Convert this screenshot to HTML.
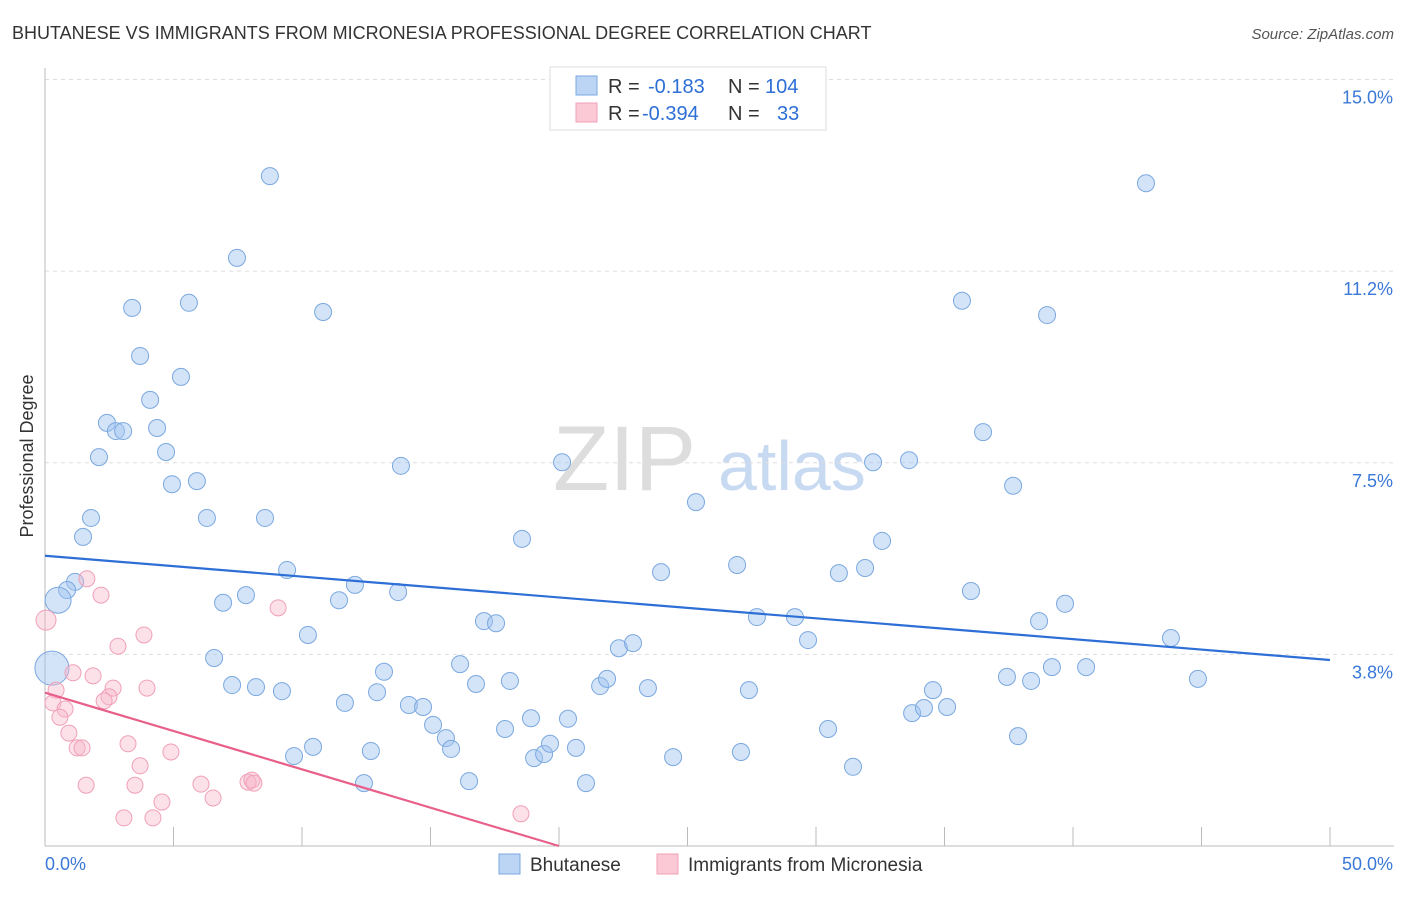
<!DOCTYPE html>
<html><head><meta charset="utf-8"><style>
body{margin:0;background:#fff;font-family:"Liberation Sans",sans-serif;}
svg text{font-family:"Liberation Sans",sans-serif;}
</style></head><body>
<svg id="chart" width="1406" height="892" xmlns="http://www.w3.org/2000/svg">
<text x="12" y="39" font-size="18" fill="#333">BHUTANESE VS IMMIGRANTS FROM MICRONESIA PROFESSIONAL DEGREE CORRELATION CHART</text>
<text x="1394" y="39" font-size="15" fill="#555" text-anchor="end" font-style="italic">Source: ZipAtlas.com</text>
<text transform="translate(33,456) rotate(-90)" font-size="18" fill="#333" text-anchor="middle">Professional Degree</text>
<g><text x="553" y="490" font-size="92" fill="#ddd" font-family="Liberation Serif">ZIP</text><text x="718" y="490" font-size="70" fill="#c8daf2">atlas</text></g>
<g id="grid"></g><g id="marks"></g>
<g>
<rect x="550" y="67" width="276" height="63" fill="#fff" stroke="#ddd"/>
<rect x="576" y="76" width="21" height="19" fill="#bcd5f5" stroke="#7aa8e0"/>
<rect x="576" y="103" width="21" height="19" fill="#fbc8d6" stroke="#f0a0b8"/>
<text x="608" y="93" font-size="20" fill="#333">R = </text><text x="648" y="93" font-size="20" fill="#2d6fd6">-0.183</text>
<text x="728" y="93" font-size="20" fill="#333">N = </text><text x="765" y="93" font-size="20" fill="#2d6fd6">104</text>
<text x="608" y="120" font-size="20" fill="#333">R = </text><text x="642" y="120" font-size="20" fill="#2d6fd6">-0.394</text>
<text x="728" y="120" font-size="20" fill="#333">N = </text><text x="777" y="120" font-size="20" fill="#2d6fd6">33</text>
</g>
<g>
<rect x="499" y="854" width="21" height="20" fill="#bcd5f5" stroke="#7aa8e0"/>
<text x="530" y="871" font-size="19" fill="#333">Bhutanese</text>
<rect x="657" y="854" width="21" height="20" fill="#fbc8d6" stroke="#f0a0b8"/>
<text x="688" y="871" font-size="19" fill="#333">Immigrants from Micronesia</text>
</g>
</svg>
<script>
const xTicks=[0,5,10,15,20,25,30,35,40,45,50];
const yTicks=[3.75,7.5,11.25,15];
const yTickLabels=["3.8%","7.5%","11.2%","15.0%"];
const blueX=[8.75,7.47,3.39,5.60,10.82,3.70,5.29,4.09,2.41,2.76,3.04,4.36,4.71,2.10,4.94,5.91,1.79,6.30,8.56,1.48,13.85,20.12,25.33,18.56,32.22,33.62,36.50,37.67,32.57,35.68,38.99,42.84,1.17,0.86,0.51,0.27,9.42,12.06,13.74,11.44,7.82,6.93,10.23,17.08,17.55,23.97,26.93,30.89,31.91,27.70,29.18,29.69,36.03,39.69,38.68,43.81,6.58,7.28,8.21,9.22,11.67,12.92,13.19,14.16,14.71,15.10,15.60,15.80,16.15,16.77,18.09,18.91,17.90,16.50,12.41,12.68,9.69,10.43,19.03,19.42,19.65,20.35,20.66,21.05,21.60,21.87,22.33,22.88,23.46,24.44,27.08,27.39,30.47,31.44,33.74,34.20,34.55,35.10,37.43,37.86,38.37,39.18,40.51,44.86];
const blueY=[13.11,11.51,10.53,10.63,10.45,9.59,9.18,8.73,8.28,8.12,8.12,8.18,7.71,7.61,7.08,7.14,6.42,6.42,6.42,6.05,7.44,7.51,6.73,6.01,7.51,7.55,8.10,7.05,5.97,10.67,10.39,12.97,5.17,5.01,4.81,3.48,5.40,5.11,4.97,4.81,4.91,4.76,4.13,4.40,4.36,5.36,5.50,5.34,5.44,4.48,4.48,4.03,4.99,4.74,4.40,4.07,3.68,3.15,3.11,3.03,2.80,3.01,3.41,2.76,2.72,2.37,2.11,1.90,3.56,3.17,3.23,2.50,2.29,1.27,1.23,1.86,1.76,1.94,1.72,1.80,2.00,2.49,1.92,1.23,3.13,3.27,3.87,3.97,3.09,1.74,1.84,3.05,2.29,1.55,2.60,2.70,3.05,2.72,3.31,2.15,3.23,3.50,3.50,3.27];
const pinkX=[0.04,1.63,2.18,9.07,3.85,2.84,1.09,1.87,0.43,2.65,3.97,0.31,2.49,2.30,0.78,0.58,0.93,1.25,1.44,3.23,4.90,3.70,1.60,3.50,6.07,7.90,8.05,8.13,6.54,4.55,3.07,4.20,18.52];
const pinkY=[4.42,5.23,4.91,4.66,4.13,3.91,3.39,3.33,3.05,3.09,3.09,2.80,2.92,2.84,2.68,2.52,2.21,1.92,1.92,2.00,1.84,1.57,1.19,1.19,1.21,1.25,1.29,1.23,0.94,0.86,0.55,0.55,0.63];
const blueTrend=[5.68,3.64];
const pinkTrend=[3.00,0.0];
const pinkTrendEnd=20;
const X=v=>45+v*25.7, Y=v=>846-v*51.1;
const NS="http://www.w3.org/2000/svg";
const grid=document.getElementById('grid'), marks=document.getElementById('marks');
function mk(tag,attrs,parent){const e=document.createElementNS(NS,tag);for(const k in attrs)e.setAttribute(k,attrs[k]);parent.appendChild(e);return e;}
yTicks.forEach((t,i)=>{
 const l=mk('line',{x1:45,x2:1394,y1:Y(t),y2:Y(t),stroke:'#ddd','stroke-dasharray':'4,4'},grid);
 
 
 const tx=mk('text',{x:1393,y:Y(t)+24,'font-size':18,fill:'#3a78d8','text-anchor':'end'},grid);
 tx.textContent=yTickLabels[i];
 
 
});
const ax=mk('line',{x1:45,x2:45,y1:68,y2:846,stroke:'#bbb'},grid);


const bx=mk('line',{x1:45,x2:1394,y1:846,y2:846,stroke:'#bbb'},grid);


xTicks.forEach(t=>{const l=mk('line',{x1:X(t),x2:X(t),y1:827,y2:846,stroke:'#bbb'},grid);
 
 });
[[0,'0.0%','start',45],[50,'50.0%','end',1393]].forEach(a=>{const t=mk('text',{x:a[3],y:870,'font-size':18,fill:'#3a78d8','text-anchor':a[2]},grid);t.textContent=a[1];
 
 });
blueX.forEach((v,i)=>{let r=8.5; if(i===34) r=13; if(i===35) r=17;
 const c=mk('circle',{cx:X(v),cy:Y(blueY[i]),r:r,fill:'rgba(160,196,240,0.45)',stroke:'#7aa8e0','stroke-width':1},marks);
 
 });
pinkX.forEach((v,i)=>{const r=i===0?10:8;
 const c=mk('circle',{cx:X(v),cy:Y(pinkY[i]),r:r,fill:'rgba(248,180,200,0.4)',stroke:'#f0a0b8','stroke-width':1},marks);
 
 });
const bl=mk('line',{x1:X(0),y1:Y(blueTrend[0]),x2:X(50),y2:Y(blueTrend[1]),stroke:'#2d6fd6','stroke-width':2.2},marks);


const pl=mk('line',{x1:X(0),y1:Y(pinkTrend[0]),x2:X(pinkTrendEnd),y2:Y(pinkTrend[1]),stroke:'#e8608a','stroke-width':2.2},marks);


</script>
</body></html>
